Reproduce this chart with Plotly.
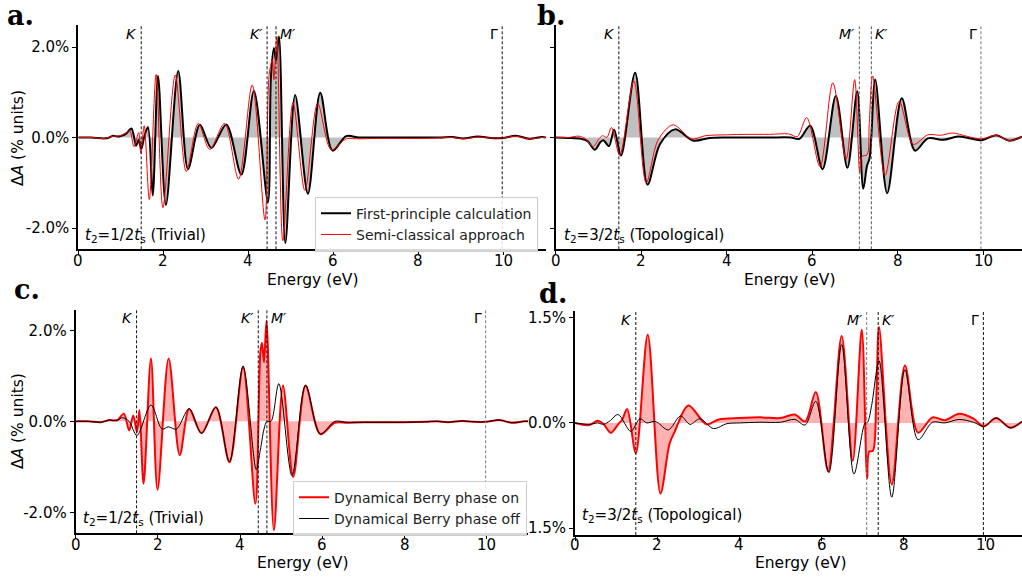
import plotly.graph_objects as go

# ---------------- data ----------------
# Panel a: t2 = 1/2 ts (Trivial)
E_a_fp = [0, 0.3, 0.6, 0.7, 0.82, 0.92, 1.02, 1.12, 1.25, 1.36, 1.42, 1.48, 1.56, 1.64, 1.75, 1.875,
          2.06, 2.35, 2.58, 2.86, 3.13, 3.48, 3.835, 4.13, 4.46, 4.53, 4.6, 4.65, 4.72, 4.87, 5.1, 5.40,
          5.69, 5.98, 6.3, 6.6, 7.0, 7.5, 8.0, 8.5, 8.8, 9.05, 9.4, 9.7, 9.98, 10.3, 10.6, 10.9, 11.0]
dA_a_fp = [0, 0, -0.02, -0.01, 0.04, 0.02, 0.04, 0.08, 0.2, -0.18, -0.05, -0.26, 0.05, 0.23, -1.28, 1.36,
           -1.49, 1.47, -0.7, 0.28, -0.23, 0.29, -0.82, 1.03, -1.43, 1.32, 1.98, 1.7, 2.23, -2.33, 0.94, -1.24,
           0.99, -0.29, 0.03, 0.0, 0.0, 0.0, 0.0, 0.0, 0.01, -0.02, 0.02, -0.01, -0.01, 0.04, -0.03, 0.01, 0.0]
E_a_sc = [0, 0.3, 0.6, 0.7, 0.82, 0.92, 1.02, 1.12, 1.21, 1.31, 1.42, 1.47, 1.55, 1.67, 1.83, 1.99,
          2.28, 2.54, 2.82, 3.09, 3.44, 3.77, 4.09, 4.39, 4.49, 4.565, 4.6, 4.67, 4.81, 5.05, 5.33, 5.63,
          5.95, 6.3, 6.6, 7.0, 7.5, 8.0, 8.5, 8.8, 9.05, 9.4, 9.7, 9.98, 10.3, 10.6, 10.9, 11.0]
dA_a_sc = [0, 0, -0.02, 0.0, 0.03, 0.03, 0.05, 0.1, 0.15, -0.2, 0.11, -0.35, 0.26, -1.37, 1.39, -1.55,
           1.38, -0.75, 0.31, -0.26, 0.31, -0.92, 1.16, -1.82, 1.4, 1.72, 1.28, 2.23, -2.28, 0.77, -1.17, 0.75,
           -0.27, -0.03, -0.03, -0.02, -0.02, -0.02, -0.01, 0.0, -0.03, 0.01, -0.01, -0.01, 0.03, -0.03, 0.0, 0.0]

# Panel b: t2 = 3/2 ts (Topological)
E_b_fp = [0, 0.3, 0.6, 0.75, 0.92, 1.05, 1.12, 1.25, 1.37, 1.53, 1.86, 2.15, 2.44, 2.79, 3.22, 3.6,
          4.0, 4.5, 5.0, 5.5, 5.7, 5.95, 6.24, 6.55, 6.82, 7.05, 7.19, 7.28, 7.34, 7.47, 7.75, 8.09,
          8.40, 8.7, 9.06, 9.4, 9.7, 9.95, 10.3, 10.6, 10.9]
dA_b_fp = [0, -0.01, -0.03, -0.08, -0.27, -0.1, -0.06, -0.19, 0.17, -0.4, 1.43, -1.04, -0.15, 0.18, -0.07, -0.01,
           0.0, 0.0, 0.0, 0.0, -0.03, 0.26, -0.7, 0.92, -0.67, 1.02, -1.13, -0.62, -0.45, 1.28, -1.23, 0.87,
           -0.29, -0.02, -0.05, 0.02, -0.02, -0.06, 0.05, -0.07, 0.02]
E_b_sc = [0, 0.3, 0.55, 0.7, 0.88, 1.0, 1.1, 1.2, 1.31, 1.5, 1.83, 2.12, 2.4, 2.75, 3.18, 3.5,
          4.0, 4.5, 5.0, 5.45, 5.65, 5.87, 6.18, 6.48, 6.79, 6.99, 7.11, 7.16, 7.28, 7.33, 7.41, 7.70,
          8.03, 8.36, 8.7, 9.0, 9.29, 9.6, 9.95, 10.3, 10.6, 10.9]
dA_b_sc = [0, 0.0, 0.03, -0.03, -0.2, -0.05, 0.04, 0.0, 0.22, -0.39, 1.25, -1.0, -0.05, 0.28, -0.03, 0.04,
           0.06, 0.07, 0.07, 0.08, 0.02, 0.44, -0.64, 1.21, -0.48, 1.28, -0.78, -0.42, -0.38, 0.3, 1.36, -0.84,
           0.8, -0.15, 0.06, 0.05, 0.1, 0.03, -0.03, 0.05, -0.07, 0.02]

# Panel c: t2 = 1/2 ts (Trivial), Berry phase on / off
E_c_on = [0, 0.3, 0.6, 0.7, 0.82, 0.92, 1.02, 1.17, 1.30, 1.40, 1.49, 1.55, 1.65, 1.83, 1.99, 2.26,
          2.53, 2.76, 3.06, 3.41, 3.74, 4.07, 4.37, 4.49, 4.53, 4.58, 4.64, 4.82, 5.04, 5.29, 5.59, 5.95,
          6.3, 6.6, 7.0, 7.5, 8.0, 8.5, 8.8, 9.05, 9.4, 9.7, 9.98, 10.3, 10.6, 10.9, 11.0]
dA_c_on = [0, 0, -0.02, 0.0, 0.03, 0.02, 0.03, 0.17, -0.2, 0.13, -0.24, 0.25, -1.37, 1.38, -1.50, 1.38,
           -0.74, 0.27, -0.26, 0.31, -0.9, 1.18, -1.81, 1.51, 1.73, 1.3, 2.21, -2.39, 0.79, -1.22, 0.78, -0.28,
           -0.03, -0.03, -0.02, -0.02, -0.02, -0.01, 0.0, -0.02, 0.01, -0.01, -0.01, 0.03, -0.03, 0.0, 0.0]
E_c_off = [0, 0.3, 0.6, 0.7, 0.82, 0.92, 1.02, 1.14, 1.3, 1.49, 1.83, 2.10, 2.25, 2.45, 2.76, 3.06,
           3.41, 3.74, 4.07, 4.39, 4.49, 4.58, 4.65, 4.75, 4.94, 5.26, 5.59, 5.95, 6.3, 6.6, 7.0, 7.5,
           8.0, 8.5, 8.8, 9.05, 9.4, 9.7, 9.98, 10.3, 10.6, 10.9, 11.0]
dA_c_off = [0, 0, -0.02, 0.0, 0.03, 0.02, 0.03, 0.08, 0.0, -0.31, 0.36, -0.17, -0.12, -0.17, 0.28, -0.26,
            0.31, -0.88, 1.22, -1.06, -0.63, -0.17, 0.0, 0.0, 0.83, -1.19, 0.8, -0.28, 0.0, -0.02, -0.02, -0.02,
            -0.02, -0.01, 0.0, -0.02, 0.01, -0.01, -0.01, 0.03, -0.03, 0.0, 0.0]

# Panel d: t2 = 3/2 ts (Topological), Berry phase on / off
E_d_on = [0, 0.35, 0.55, 0.7, 0.87, 1.05, 1.15, 1.27, 1.48, 1.77, 2.08, 2.3, 2.43, 2.76, 3.2, 3.5,
          4.0, 4.5, 5.0, 5.35, 5.6, 5.86, 6.16, 6.49, 6.76, 6.98, 7.11, 7.16, 7.25, 7.33, 7.40, 7.71,
          8.03, 8.35, 8.7, 9.0, 9.35, 9.7, 9.95, 10.25, 10.6, 10.88]
dA_d_on = [0, -0.03, 0.03, -0.02, -0.14, -0.02, 0.05, 0.2, -0.43, 1.26, -1.01, -0.3, -0.12, 0.25, -0.02, 0.05,
           0.07, 0.08, 0.07, 0.12, 0.02, 0.44, -0.69, 1.24, -0.54, 1.33, -0.79, -0.41, -0.4, 0.3, 1.37, -0.88,
           0.82, -0.14, 0.08, 0.04, 0.13, 0.06, -0.05, 0.07, -0.07, 0.02]
E_d_off = [0, 0.35, 0.55, 0.7, 0.85, 1.05, 1.36, 1.58, 1.75, 1.9, 2.0, 2.27, 2.57, 2.8, 3.04, 3.37,
           3.7, 4.0, 4.5, 5.0, 5.35, 5.6, 5.86, 6.18, 6.49, 6.79, 7.06, 7.12, 7.22, 7.40, 7.71, 8.03,
           8.35, 8.7, 9.0, 9.35, 9.7, 9.95, 10.25, 10.6, 10.88]
dA_d_off = [0, -0.02, 0.0, -0.02, 0.03, 0.12, -0.12, 0.06, 0.0, 0.02, 0.01, -0.1, 0.1, -0.02, 0.06, -0.08,
            -0.01, 0.0, 0.01, 0.01, 0.05, -0.03, 0.31, -0.71, 1.12, -0.73, 0.0, 0.01, 0.25, 0.89, -1.06, 0.76,
            -0.24, 0.01, 0.0, 0.05, 0.01, -0.05, 0.07, -0.07, 0.02]

# High-symmetry points
kpts_trivial = [1.48, 4.44, 4.65, 9.97]
kpt_labels_trivial = ["K", "K′", "M′", "Γ"]
kpt_side_trivial = ["left", "left", "right", "left"]
kpts_topo = [1.48, 7.10, 7.38, 9.94]
kpt_labels_topo = ["K", "M′", "K′", "Γ"]
kpt_side_topo = ["left", "left", "right", "left"]
kpt_line_colors = {
    "a": ["#111111", "#111111", "#111111", "#111111"],
    "b": ["#111111", "#666666", "#555555", "#777777"],
    "c": ["#111111", "#111111", "#111111", "#777777"],
    "d": ["#111111", "#777777", "#111111", "#111111"],
}

xtick_vals = [0, 2, 4, 6, 8, 10]
xtick_text = ["0", "2", "4", "6", "8", "10"]
ytick_vals_ac = [-2, 0, 2]
ytick_text_ac = ["-2.0%", "0.0%", "2.0%"]
ytick_vals_d = [-1.5, 0, 1.5]
ytick_text_d = ["1.5%", "0.0%", "1.5%"]

# ---------------- figure ----------------
W, H = 1022, 583
FONT = "DejaVu Sans"
GRAY_FILL = "rgba(150,150,150,0.6)"
PINK_FILL = "rgba(255,0,0,0.3)"
SMOOTH = 0.9

fig = go.Figure()


def add_pair(xa, ya, xs1, ys1, xs2, ys2, fillcolor, w1, w2, c1, c2, n1, n2, legend):
    show = legend is not None
    leg = legend or "legend"
    # shaded area between the first curve and zero
    fig.add_trace(go.Scatter(x=xs1, y=ys1, xaxis=xa, yaxis=ya, mode="lines",
                             line=dict(color="rgba(0,0,0,0)", width=0, shape="spline", smoothing=SMOOTH),
                             fill="tozeroy", fillcolor=fillcolor, showlegend=False, hoverinfo="skip"))
    fig.add_trace(go.Scatter(x=xs1, y=ys1, xaxis=xa, yaxis=ya, mode="lines",
                             line=dict(color=c1, width=w1, shape="spline", smoothing=SMOOTH),
                             name=n1, showlegend=show, legend=leg))
    fig.add_trace(go.Scatter(x=xs2, y=ys2, xaxis=xa, yaxis=ya, mode="lines",
                             line=dict(color=c2, width=w2, shape="spline", smoothing=SMOOTH),
                             name=n2, showlegend=show, legend=leg))


add_pair("x", "y", E_a_fp, dA_a_fp, E_a_sc, dA_a_sc, GRAY_FILL, 2, 1, "#000000", "#ff0000",
         "First-principle calculation", "Semi-classical approach", "legend")
add_pair("x2", "y2", E_b_fp, dA_b_fp, E_b_sc, dA_b_sc, GRAY_FILL, 2, 1, "#000000", "#ff0000",
         "First-principle calculation", "Semi-classical approach", None)
add_pair("x3", "y3", E_c_on, dA_c_on, E_c_off, dA_c_off, PINK_FILL, 2, 1, "#ff0000", "#000000",
         "Dynamical Berry phase on", "Dynamical Berry phase off", "legend2")
add_pair("x4", "y4", E_d_on, dA_d_on, E_d_off, dA_d_off, PINK_FILL, 2, 1, "#ff0000", "#000000",
         "Dynamical Berry phase on", "Dynamical Berry phase off", None)


def px2fx(px):
    return px / W


def py2fy(py):
    return 1 - py / H


axis_common = dict(showline=True, linecolor="black", linewidth=2, ticks="outside", ticklen=4,
                   tickwidth=1.2, tickcolor="black", showgrid=False, zeroline=False,
                   tickfont=dict(family=FONT, size=15, color="black"))

dom = {
    "a": dict(x=[px2fx(78.3), px2fx(546)], y=[py2fy(249), py2fy(23)], xr=[0, 11], yr=[-2.47, 2.49]),
    "b": dict(x=[px2fx(555.5), 1.0], y=[py2fy(249), py2fy(23)], xr=[0, 10.9], yr=[-2.47, 2.49]),
    "c": dict(x=[px2fx(75.7), px2fx(528)], y=[py2fy(535), py2fy(310)], xr=[0, 11], yr=[-2.46, 2.45]),
    "d": dict(x=[px2fx(575), 1.0], y=[py2fy(536.7), py2fy(311)], xr=[0, 10.88], yr=[-1.6, 1.6]),
}
names = [("a", "xaxis", "yaxis", "y", "x"), ("b", "xaxis2", "yaxis2", "y2", "x2"),
         ("c", "xaxis3", "yaxis3", "y3", "x3"), ("d", "xaxis4", "yaxis4", "y4", "x4")]
for key, xn, yn, yref, xref in names:
    d = dom[key]
    fig.layout[xn] = dict(domain=d["x"], range=d["xr"], anchor=yref, tickvals=xtick_vals,
                          showticklabels=False, **axis_common)
    yd = dict(domain=d["y"], range=d["yr"], anchor=xref, **axis_common)
    if key in ("a", "c"):
        yd.update(tickvals=ytick_vals_ac, ticktext=ytick_text_ac)
    elif key == "b":
        yd.update(tickvals=ytick_vals_ac, showticklabels=False)
    else:
        yd.update(tickvals=ytick_vals_d, ticktext=ytick_text_d)
    fig.layout[yn] = yd

shapes = []
annotations = []

# x tick labels placed just under each axis
for xref, lab_py in [("x", 261), ("x2", 261), ("x3", 547), ("x4", 547)]:
    for tv, tt in zip(xtick_vals, xtick_text):
        annotations.append(dict(x=tv, xref=xref, y=py2fy(lab_py), yref="paper", text=tt,
                                showarrow=False, xanchor="center", yanchor="middle",
                                font=dict(family=FONT, size=15, color="black")))

panel_kp = [("a", "x", "y", kpts_trivial, kpt_labels_trivial, kpt_side_trivial, 32),
            ("b", "x2", "y2", kpts_topo, kpt_labels_topo, kpt_side_topo, 32),
            ("c", "x3", "y3", kpts_trivial, kpt_labels_trivial, kpt_side_trivial, 318),
            ("d", "x4", "y4", kpts_topo, kpt_labels_topo, kpt_side_topo, 320)]
for key, xref, yref, kps, labs, sides, lab_py in panel_kp:
    for kp, lab, side, lc in zip(kps, labs, sides, kpt_line_colors[key]):
        shapes.append(dict(type="line", xref=xref, yref=yref + " domain", x0=kp, x1=kp, y0=0, y1=1,
                           line=dict(color=lc, width=1, dash="3px,2px"), layer="above"))
        txt = lab if lab == "Γ" else "<i>" + lab + "</i>"
        annotations.append(dict(x=kp, xref=xref, y=py2fy(lab_py), yref="paper", text=txt,
                                showarrow=False, xanchor="right" if side == "left" else "left",
                                xshift=-2 if side == "left" else 2, yanchor="middle",
                                font=dict(family=FONT, size=14, color="black")))

# panel letters
for lab, px, py in [("a.", 20, 14), ("b.", 551, 14), ("c.", 27, 289), ("d.", 553, 294)]:
    annotations.append(dict(x=px2fx(px), y=py2fy(py), xref="paper", yref="paper", text="<b>" + lab + "</b>",
                            showarrow=False, xanchor="center", yanchor="middle",
                            font=dict(family="DejaVu Serif", size=27, color="black")))

# axis titles
for px, py in [(312, 280), (789, 280), (302, 565), (800, 565)]:
    annotations.append(dict(x=px2fx(px), y=py2fy(py), xref="paper", yref="paper", text="Energy (eV)",
                            showarrow=False, xanchor="center", yanchor="middle",
                            font=dict(family=FONT, size=15.5, color="black")))
for py in [137, 422]:
    annotations.append(dict(x=px2fx(18), y=py2fy(py), xref="paper", yref="paper",
                            text="Δ<i>A</i> (% units)", textangle=-90, showarrow=False,
                            xanchor="center", yanchor="middle",
                            font=dict(family=FONT, size=15.5, color="black")))

# t2 annotations
for px, py, txt in [(83, 235, "<i>t</i><sub>2</sub>=1/2<i>t</i><sub>s</sub> (Trivial)"),
                    (562, 235, "<i>t</i><sub>2</sub>=3/2<i>t</i><sub>s</sub> (Topological)"),
                    (81, 520, "<i>t</i><sub>2</sub>=1/2<i>t</i><sub>s</sub> (Trivial)"),
                    (580, 517, "<i>t</i><sub>2</sub>=3/2<i>t</i><sub>s</sub> (Topological)")]:
    annotations.append(dict(x=px2fx(px), y=py2fy(py), xref="paper", yref="paper", text=txt,
                            showarrow=False, xanchor="left", yanchor="middle",
                            font=dict(family=FONT, size=15, color="black")))

legend_style = dict(bgcolor="rgba(255,255,255,0.85)", bordercolor="#cccccc", borderwidth=1,
                    font=dict(family=FONT, size=14, color="#222222"), xanchor="left", yanchor="top",
                    tracegroupgap=0, itemwidth=30)

fig.update_layout(
    width=W, height=H, margin=dict(l=0, r=0, t=0, b=0),
    paper_bgcolor="white", plot_bgcolor="white",
    shapes=shapes, annotations=annotations,
    legend=dict(x=px2fx(315), y=py2fy(196), **legend_style),
    legend2=dict(x=px2fx(293), y=py2fy(482), **legend_style),
    font=dict(family=FONT),
)

fig.write_html("out.html", config={"displayModeBar": False},
               post_script="document.body.style.margin='0';")
